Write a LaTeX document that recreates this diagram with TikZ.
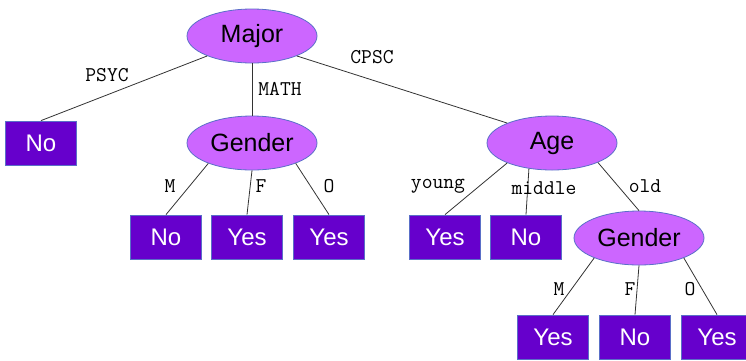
\documentclass[tikz,border=0pt]{standalone}
\usepackage{fontspec}
\setmainfont{Liberation Sans}
\usetikzlibrary{shapes.geometric}
\definecolor{attrfill}{HTML}{CC66FF}
\definecolor{leaffill}{HTML}{6600CC}
\definecolor{edgeblue}{HTML}{5A6FC8}
\definecolor{linegray}{HTML}{333333}
\tikzset{
  attr/.style={ellipse, draw=edgeblue, line width=0.8pt, fill=attrfill, minimum width=130pt, minimum height=54pt, inner sep=0pt, font=\fontsize{25}{28}\selectfont, text=black},
  leaf/.style={rectangle, draw=edgeblue, line width=0.8pt, fill=leaffill, minimum width=71pt, minimum height=44pt, inner sep=0pt, font=\fontsize{24}{28}\selectfont, text=white},
  lbl/.style={font=\ttfamily\fontsize{21}{24}\selectfont, text=black, inner sep=0pt},
  conn/.style={draw=linegray, line width=0.8pt}
}
\begin{document}
\begin{tikzpicture}[x=1pt,y=-1pt]
\useasboundingbox (0,0) rectangle (746,360);
% connectors (drawn first, nodes on top)
\coordinate (c-major) at (252,36);
% nodes
\node[attr] (major) at (252,36) {Major};
\node[leaf] (no1) at (41,143) {No};
\node[attr] (gender1) at (252,143) {Gender};
\node[attr] (age) at (552,143) {Age};
\node[leaf] (no2) at (166,237) {No};
\node[leaf] (yes1) at (247,237) {Yes};
\node[leaf] (yes2) at (329,237) {Yes};
\node[leaf] (yes3) at (445,237) {Yes};
\node[leaf] (no3) at (526,237) {No};
\node[attr] (gender2) at (639,238) {Gender};
\node[leaf] (yes4) at (553,337) {Yes};
\node[leaf] (no4) at (635,337) {No};
\node[leaf] (yes5) at (717,337) {Yes};
% connectors
\draw[conn] (major.204) -- (no1.north);
\draw[conn] (major.south) -- (gender1.north);
\draw[conn] (major.336) -- (age.156);
\draw[conn] (gender1.205) -- (no2.north);
\draw[conn] (gender1.south) -- (yes1.north);
\draw[conn] (gender1.335) -- (yes2.north);
\draw[conn] (age.204) -- (yes3.north);
\draw[conn] (age.228) -- (no3.north);
\draw[conn] (age.337) -- (gender2.north);
\draw[conn] (gender2.204) -- (yes4.north);
\draw[conn] (gender2.south) -- (no4.north);
\draw[conn] (gender2.336) -- (yes5.north);
% labels
\node[lbl] (lpsyc) at (107,75) {PSYC};
\node[lbl] (lmath) at (280,89) {MATH};
\node[lbl] (lcpsc) at (372,57) {CPSC};
\node[lbl] (lm1) at (170,186) {M};
\node[lbl] (lf1) at (261,186) {F};
\node[lbl] (lo1) at (329,186) {O};
\node[lbl] (lyoung) at (438,186) {young};
\node[lbl] (lmiddle) at (544,188) {middle};
\node[lbl] (lold) at (645,186) {old};
\node[lbl] (lm2) at (559,289) {M};
\node[lbl] (lf2) at (630,289) {F};
\node[lbl] (lo2) at (690,289) {O};
\end{tikzpicture}
\end{document}
